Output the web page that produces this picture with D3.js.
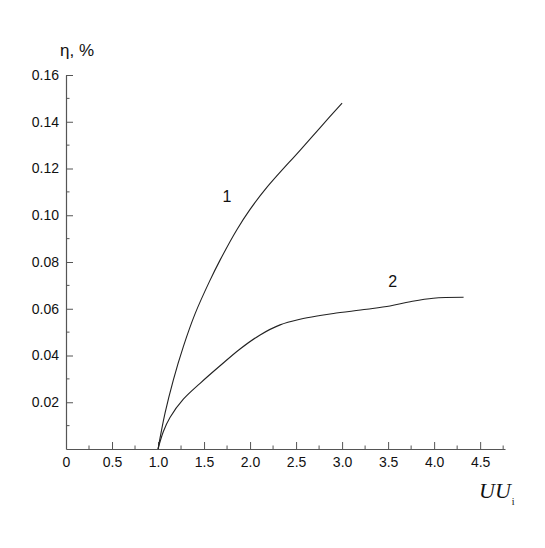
<!DOCTYPE html>
<html>
<head>
<meta charset="utf-8">
<script src="https://cdn.jsdelivr.net/npm/d3@7"></script>
<style>
  body { margin: 0; background: #fff; }
  svg { display: block; }
</style>
</head>
<body>
<svg id="chart" width="545" height="548"></svg>
<script>
// ---- data ----
const xMajorTicks = [0, 0.5, 1.0, 1.5, 2.0, 2.5, 3.0, 3.5, 4.0, 4.5];
const xMinorTicks = [0.25, 0.75, 1.25, 1.75, 2.25, 2.75, 3.25, 3.75, 4.25, 4.75];
const yMajorTicks = [0.02, 0.04, 0.06, 0.08, 0.10, 0.12, 0.14, 0.16];
const yMinorTicks = [0.01, 0.03, 0.05, 0.07, 0.09, 0.11, 0.13, 0.15];

const curve1X = [1.0, 1.076, 1.166, 1.275, 1.402, 1.558, 1.674, 1.855, 2.0, 2.18, 2.543, 2.75, 3.0];
const curve1Y = [0, 0.0153, 0.0295, 0.0438, 0.0578, 0.0716, 0.0808, 0.0937, 0.1025, 0.1118, 0.1278, 0.137, 0.148];

const curve2X = [1.0, 1.058, 1.13, 1.275, 1.457, 1.674, 1.891, 2.109, 2.326, 2.543, 2.76, 2.906, 3.268, 3.52, 3.74, 3.99, 4.32];
const curve2Y = [0, 0.0075, 0.0135, 0.0213, 0.0281, 0.0356, 0.0428, 0.0488, 0.0531, 0.0555, 0.0571, 0.058, 0.0598, 0.0612, 0.063, 0.0645, 0.0649];

const curveLabels = ["1", "2"];
const curveLabelPos = [[1.75, 0.1055], [3.55, 0.0695]];

// ---- layout ----
const svg = d3.select("#chart");
const x = d3.scaleLinear().domain([0, 4.77]).range([66, 505]);
const y = d3.scaleLinear().domain([0, 0.16]).range([449, 75]);
const axisColor = "#555";
const font = "'Liberation Sans', Arial, sans-serif";

// x axis
const gx = svg.append("g").attr("transform", "translate(0,449)");
gx.call(d3.axisBottom(x).tickValues(xMajorTicks).tickSizeInner(-7).tickSizeOuter(0).tickPadding(8)
  .tickFormat(d => d === 0 ? "0" : d.toFixed(1)));
gx.append("g").selectAll("line").data(xMinorTicks).join("line")
  .attr("x1", d => x(d)).attr("x2", d => x(d)).attr("y1", 0).attr("y2", -3.5);

// y axis
const gy = svg.append("g").attr("transform", "translate(66,0)");
gy.call(d3.axisLeft(y).tickValues(yMajorTicks).tickSizeInner(-7).tickSizeOuter(0).tickPadding(7)
  .tickFormat(d3.format(".2f")));
gy.append("g").selectAll("line").data(yMinorTicks).join("line")
  .attr("x1", 0).attr("x2", 3.5).attr("y1", d => y(d)).attr("y2", d => y(d));

svg.selectAll(".domain").attr("stroke", axisColor).attr("stroke-width", 1.2);
svg.selectAll(".tick line").attr("stroke", axisColor);
gx.selectAll("g > line").attr("stroke", axisColor);
gy.selectAll("g > line").attr("stroke", axisColor);
svg.selectAll(".tick text").attr("font-family", font).attr("font-size", 14).attr("fill", "#111");

// curves
const line = d3.line().x(d => x(d[0])).y(d => y(d[1])).curve(d3.curveCatmullRom.alpha(0.5));
const series = [d3.zip(curve1X, curve1Y), d3.zip(curve2X, curve2Y)];
svg.append("g").selectAll("path").data(series).join("path")
  .attr("d", line).attr("fill", "none").attr("stroke", "#222").attr("stroke-width", 1.1);

// curve labels
svg.append("g").selectAll("text").data(curveLabels).join("text")
  .attr("x", (d, i) => x(curveLabelPos[i][0]))
  .attr("y", (d, i) => y(curveLabelPos[i][1]))
  .attr("text-anchor", "middle")
  .attr("font-family", font).attr("font-size", 16).attr("fill", "#111")
  .text(d => d);

// axis titles
svg.append("text").attr("x", 60).attr("y", 56)
  .attr("font-family", font).attr("font-size", 17).attr("fill", "#111")
  .text("η, %");

const xt = svg.append("text").attr("x", 479).attr("y", 498)
  .attr("font-family", "'Liberation Serif', 'Times New Roman', serif").attr("fill", "#111");
xt.append("tspan").attr("font-size", 22).attr("font-style", "italic").text("UU");
xt.append("tspan").attr("font-size", 10).attr("dy", 7).attr("dx", 1).text("i");
</script>
</body>
</html>
